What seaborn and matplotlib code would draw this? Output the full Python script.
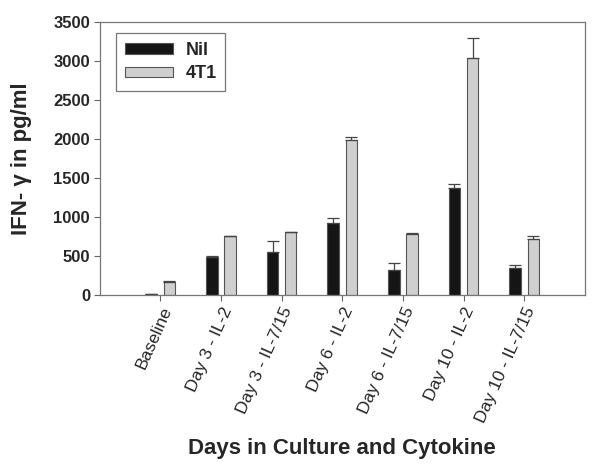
import numpy as np
import pandas as pd
import matplotlib
matplotlib.use("Agg")
import matplotlib.pyplot as plt
import seaborn as sns

# -----------------------------
#  Data
# -----------------------------
conditions = ["Baseline", "Day 3 - IL-2", "Day 3 - IL-7/15", "Day 6 - IL-2",
              "Day 6 - IL-7/15", "Day 10 - IL-2", "Day 10 - IL-7/15"]
groups = ["Nil", "4T1"]
nil_mean = [5, 480, 547, 919, 316, 1367, 338]
nil_err = [0, 15, 140, 65, 90, 50, 40]
t41_mean = [170, 756, 803, 1983, 782, 3038, 714]
t41_err = [10, 0, 0, 45, 10, 260, 47]
y_ticks = [0, 500, 1000, 1500, 2000, 2500, 3000, 3500]

df = pd.DataFrame({
    "condition": conditions * 2,
    "group": ["Nil"] * len(conditions) + ["4T1"] * len(conditions),
    "value": nil_mean + t41_mean,
})

sns.set_style("ticks")
plt.rcParams["font.family"] = ["Liberation Sans", "DejaVu Sans"]

fig = plt.figure(figsize=(6.01, 4.68), dpi=100)
ax = fig.add_axes([0.166, 0.370, 0.807, 0.583])

palette = {"Nil": "#151515", "4T1": "#cfcfcf"}
sns.barplot(data=df, x="condition", y="value", hue="group", hue_order=groups,
            order=conditions, palette=palette, width=0.6, gap=0.37,
            errorbar=None, edgecolor="#555555", linewidth=0.8, saturation=1,
            ax=ax)

# upward-only error bars at bar centres
errs = {"Nil": nil_err, "4T1": t41_err}
for cont, g in zip(ax.containers, groups):
    xs = [p.get_x() + p.get_width() / 2 for p in cont.patches]
    ys = [p.get_height() for p in cont.patches]
    ax.errorbar(xs, ys, yerr=[np.zeros(len(xs)), errs[g]], fmt="none",
                ecolor="#444444", elinewidth=0.9, capsize=4, capthick=0.9)

ax.set_xlim(-1, 7)
ax.set_ylim(0, 3500)
ax.set_yticks(y_ticks)
ax.set_yticklabels([str(t) for t in y_ticks], fontsize=12, fontweight="bold")
ax.set_xticks(range(len(conditions)))
ax.set_xticklabels(conditions, rotation=66, ha="right", rotation_mode="anchor",
                   fontsize=12.5)
ax.tick_params(axis="both", direction="out", length=4, width=0.8,
               color="#666666", pad=3)

for s in ax.spines.values():
    s.set_visible(True)
    s.set_color("#777777")
    s.set_linewidth(0.9)

ax.set_xlabel("Days in Culture and Cytokine", fontsize=16, fontweight="bold")
ax.xaxis.set_label_coords(0.5, -0.525)
ax.set_ylabel("IFN- γ in pg/ml", fontsize=16, fontweight="bold")
ax.yaxis.set_label_coords(-0.14, 0.5)

leg = ax.legend(loc="upper left", bbox_to_anchor=(0.033, 0.96), frameon=True,
                fancybox=False, edgecolor="#555555", handlelength=2.65,
                handleheight=0.5, handletextpad=0.7, borderpad=0.5,
                labelspacing=0.35, borderaxespad=0,
                prop={"weight": "bold", "size": 13})
leg.get_frame().set_linewidth(0.9)
leg.set_title(None)

fig.savefig("out.png", dpi=100)
